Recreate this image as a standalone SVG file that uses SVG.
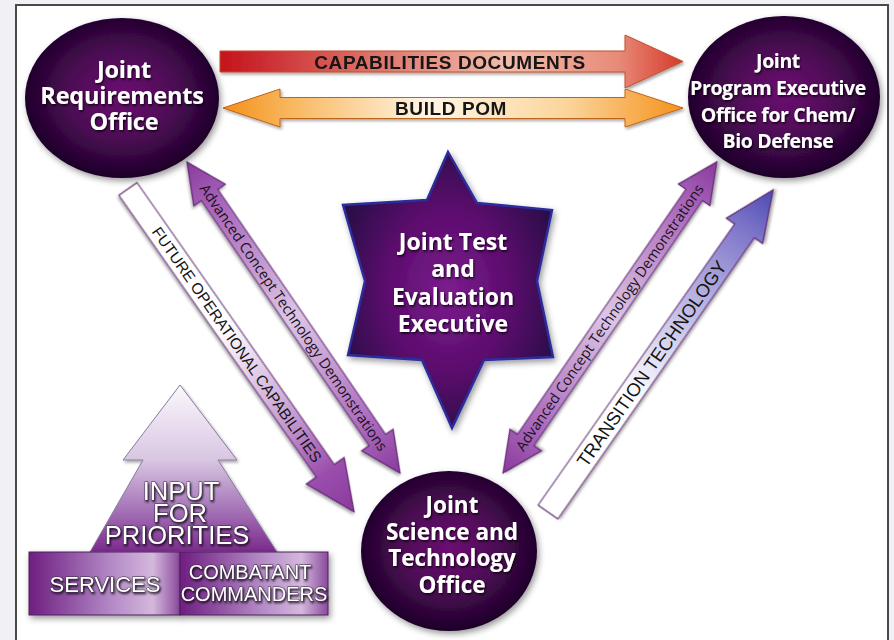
<svg xmlns="http://www.w3.org/2000/svg" width="894" height="640" viewBox="0 0 894 640">
<defs>
<style>
.node{font-family:"Open Sans","Noto Sans",sans-serif;font-weight:700;fill:#fff;text-anchor:middle}
.cap{font-family:"Liberation Sans",Arial,sans-serif;font-weight:700;fill:#141414;text-anchor:middle;letter-spacing:0.6px;font-size:19px}
.actd{font-family:"Open Sans","Noto Sans",sans-serif;font-size:14.5px;fill:#1a1020;text-anchor:middle}
.lbl{font-family:"Liberation Sans",Arial,sans-serif;fill:#141414;text-anchor:middle}
.pyr{font-family:"Liberation Sans",Arial,sans-serif;fill:#fff;stroke:#3c2c46;stroke-width:0.9px;paint-order:stroke;text-anchor:middle}
</style>
<radialGradient id="gCircle" cx="0.5" cy="0.48" r="0.55">
<stop offset="0" stop-color="#6c1072"/>
<stop offset="0.5" stop-color="#4c0a54"/>
<stop offset="0.85" stop-color="#260432"/>
<stop offset="1" stop-color="#180222"/>
</radialGradient>
<radialGradient id="gStar" cx="0.5" cy="0.5" r="0.55">
<stop offset="0" stop-color="#7c1c8e"/>
<stop offset="0.55" stop-color="#5a0c6c"/>
<stop offset="1" stop-color="#2a0848"/>
</radialGradient>
<linearGradient id="gRed" x1="0" y1="0" x2="1" y2="0">
<stop offset="0" stop-color="#c4121c"/>
<stop offset="0.3" stop-color="#dc6a62"/>
<stop offset="0.62" stop-color="#f2bcaa"/>
<stop offset="0.86" stop-color="#e88a78"/>
<stop offset="1" stop-color="#d63a2c"/>
</linearGradient>
<linearGradient id="gOrange" x1="0" y1="0" x2="1" y2="0">
<stop offset="0" stop-color="#f5901a"/>
<stop offset="0.15" stop-color="#f8b860"/>
<stop offset="0.45" stop-color="#fff6e6"/>
<stop offset="0.75" stop-color="#fbd49a"/>
<stop offset="1" stop-color="#f5921c"/>
</linearGradient>
<linearGradient id="gActd" x1="0" y1="0" x2="1" y2="0">
<stop offset="0" stop-color="#8a3a9c"/>
<stop offset="0.14" stop-color="#a866ba"/>
<stop offset="0.5" stop-color="#dcc6e4"/>
<stop offset="0.86" stop-color="#a866ba"/>
<stop offset="1" stop-color="#8a3a9c"/>
</linearGradient>
<linearGradient id="gFuture" x1="0" y1="0" x2="1" y2="0">
<stop offset="0" stop-color="#ffffff"/>
<stop offset="0.42" stop-color="#ffffff"/>
<stop offset="0.72" stop-color="#c49ad0"/>
<stop offset="0.88" stop-color="#9a4eac"/>
<stop offset="1" stop-color="#8a3a9c"/>
</linearGradient>
<linearGradient id="gTrans" x1="0" y1="0" x2="1" y2="0">
<stop offset="0" stop-color="#ffffff"/>
<stop offset="0.35" stop-color="#ffffff"/>
<stop offset="0.72" stop-color="#aaa4dc"/>
<stop offset="0.88" stop-color="#7c74c8"/>
<stop offset="1" stop-color="#4c4ab2"/>
</linearGradient>
<linearGradient id="gPyr" gradientUnits="userSpaceOnUse" x1="0" y1="385" x2="0" y2="552">
<stop offset="0" stop-color="#fbf8fc"/>
<stop offset="0.45" stop-color="#d8c6e2"/>
<stop offset="0.75" stop-color="#a472b6"/>
<stop offset="1" stop-color="#7a2a8c"/>
</linearGradient>
<linearGradient id="gBox" x1="0" y1="0" x2="1" y2="0">
<stop offset="0" stop-color="#6e1e80"/>
<stop offset="0.55" stop-color="#b48ac6"/>
<stop offset="0.82" stop-color="#d4b8dc"/>
<stop offset="1" stop-color="#8a4a9c"/>
</linearGradient>
<filter id="shadow" x="-20%" y="-20%" width="140%" height="140%">
<feDropShadow dx="2" dy="3" stdDeviation="3" flood-color="#000" flood-opacity="0.4"/>
</filter>
<filter id="ashadow" x="-20%" y="-20%" width="140%" height="140%">
<feDropShadow dx="1.5" dy="2" stdDeviation="1.5" flood-color="#000" flood-opacity="0.35"/>
</filter>
<filter id="ts" x="-10%" y="-10%" width="120%" height="130%">
<feDropShadow dx="1" dy="1.5" stdDeviation="0.8" flood-color="#000" flood-opacity="0.85"/>
</filter>
</defs>

<rect x="0" y="0" width="894" height="640" fill="#f1f0f5"/>
<rect x="16" y="5" width="872" height="700" fill="#ffffff" stroke="#4a4a4a" stroke-width="2"/>

<g id="connectors">
<g id="capabilities-documents" filter="url(#ashadow)">
<path d="M220,51 L625,51 L625,35 L683,61.5 L625,88 L625,72 L220,72 Z" fill="url(#gRed)" stroke="#c0502a" stroke-width="1"/>
<text class="cap" x="450" y="68.5">CAPABILITIES DOCUMENTS</text>
</g>
<g id="build-pom" filter="url(#ashadow)">
<path d="M223,108 L280,89 L280,97.5 L625,97.5 L625,89 L683,108 L625,127 L625,118.5 L280,118.5 L280,127 Z" fill="url(#gOrange)" stroke="#c0641a" stroke-width="1"/>
<text class="cap" x="451" y="114.5">BUILD POM</text>
</g>
<g id="future-operational" transform="translate(128,189) rotate(55)">
<path d="M0,-11 L344,-11 L344,-23 L394,0 L344,23 L344,11 L0,11 Z" fill="url(#gFuture)" stroke="#5e2470" stroke-width="1.2" filter="url(#ashadow)"/>
<text class="lbl" x="190" y="5.5" font-size="15.5">FUTURE OPERATIONAL CAPABILITIES</text>
</g>
<g id="actd-left" transform="translate(187,162) rotate(55.6)">
<path d="M0,0 L40,-19 L40,-10 L337,-10 L337,-19 L377,0 L337,19 L337,10 L40,10 L40,19 Z" fill="url(#gActd)" stroke="#5e2470" stroke-width="1.2" filter="url(#ashadow)"/>
<text class="actd" x="188.5" y="5">Advanced Concept Technology Demonstrations</text>
</g>
<g id="actd-right" transform="translate(503,473) rotate(-55.5)">
<path d="M0,0 L40,-19 L40,-10 L337.5,-10 L337.5,-19 L377.5,0 L337.5,19 L337.5,10 L40,10 L40,19 Z" fill="url(#gActd)" stroke="#5e2470" stroke-width="1.2" filter="url(#ashadow)"/>
<text class="actd" x="188.5" y="5">Advanced Concept Technology Demonstrations</text>
</g>
<g id="transition-technology" transform="translate(548,512) rotate(-55.05)">
<path d="M0,-12 L343,-12 L343,-22 L393,0 L343,22 L343,12 L0,12 Z" fill="url(#gTrans)" stroke="#5e2470" stroke-width="1.2" filter="url(#ashadow)"/>
<text class="lbl" x="181" y="6.5" font-size="18.5">TRANSITION TECHNOLOGY</text>
</g>
</g>

<g id="joint-requirements-office">
<ellipse cx="122" cy="98" rx="97" ry="80" fill="url(#gCircle)" filter="url(#shadow)"/>
<text class="node" font-size="23.5" letter-spacing="-0.2" filter="url(#ts)"><tspan x="124" y="78">Joint</tspan><tspan x="122" dy="26">Requirements</tspan><tspan x="124" dy="26">Office</tspan></text>
</g>

<g id="jpeo-chem-bio-defense">
<ellipse cx="784" cy="97" rx="96" ry="81" fill="url(#gCircle)" filter="url(#shadow)"/>
<text class="node" font-size="19.5" letter-spacing="-0.4" filter="url(#ts)"><tspan x="778" y="68">Joint</tspan><tspan x="778" dy="27">Program Executive</tspan><tspan x="778" dy="27">Office for Chem/</tspan><tspan x="778" dy="26">Bio Defense</tspan></text>
</g>

<g id="joint-test-evaluation-executive">
<path d="M448,152 L477,203 L552,210 L537,281 L553,357 L484,360 L452,428 L422,360 L348,355 L365,281 L343,205 L427,200 Z" fill="url(#gStar)" stroke="#2c2e9c" stroke-width="2.5" stroke-linejoin="miter" filter="url(#shadow)"/>
<text class="node" font-size="23" filter="url(#ts)"><tspan x="453" y="250">Joint Test</tspan><tspan x="453" dy="27">and</tspan><tspan x="453" dy="28">Evaluation</tspan><tspan x="453" dy="27">Executive</tspan></text>
</g>

<g id="joint-science-technology-office">
<ellipse cx="449" cy="551" rx="88" ry="80" fill="url(#gCircle)" filter="url(#shadow)"/>
<text class="node" font-size="22.5" filter="url(#ts)"><tspan x="452" y="513">Joint</tspan><tspan x="452" dy="27">Science and</tspan><tspan x="452" dy="26">Technology</tspan><tspan x="452" dy="27">Office</tspan></text>
</g>

<g id="input-for-priorities">
<path d="M180,385 L237,460 L218,460 L277,552 L90,552 L143,460 L123,460 Z" fill="url(#gPyr)" stroke="#8a7a9c" stroke-width="1" filter="url(#ashadow)"/>
<text class="pyr" font-size="25.5" filter="url(#ts)"><tspan x="181" y="500">INPUT</tspan><tspan x="180" dy="22">FOR</tspan><tspan x="177" dy="22">PRIORITIES</tspan></text>
</g>

<g id="services">
<rect x="29" y="552" width="151" height="63" fill="url(#gBox)" stroke="#4e1e5e" stroke-width="1" filter="url(#shadow)"/>
<text class="pyr" x="105" y="592" font-size="22" filter="url(#ts)">SERVICES</text>
</g>

<g id="combatant-commanders">
<rect x="180" y="552" width="148" height="63" fill="url(#gBox)" stroke="#4e1e5e" stroke-width="1" filter="url(#shadow)"/>
<text class="pyr" font-size="20" filter="url(#ts)"><tspan x="250" y="579">COMBATANT</tspan><tspan x="254" dy="22">COMMANDERS</tspan></text>
</g>
</svg>
